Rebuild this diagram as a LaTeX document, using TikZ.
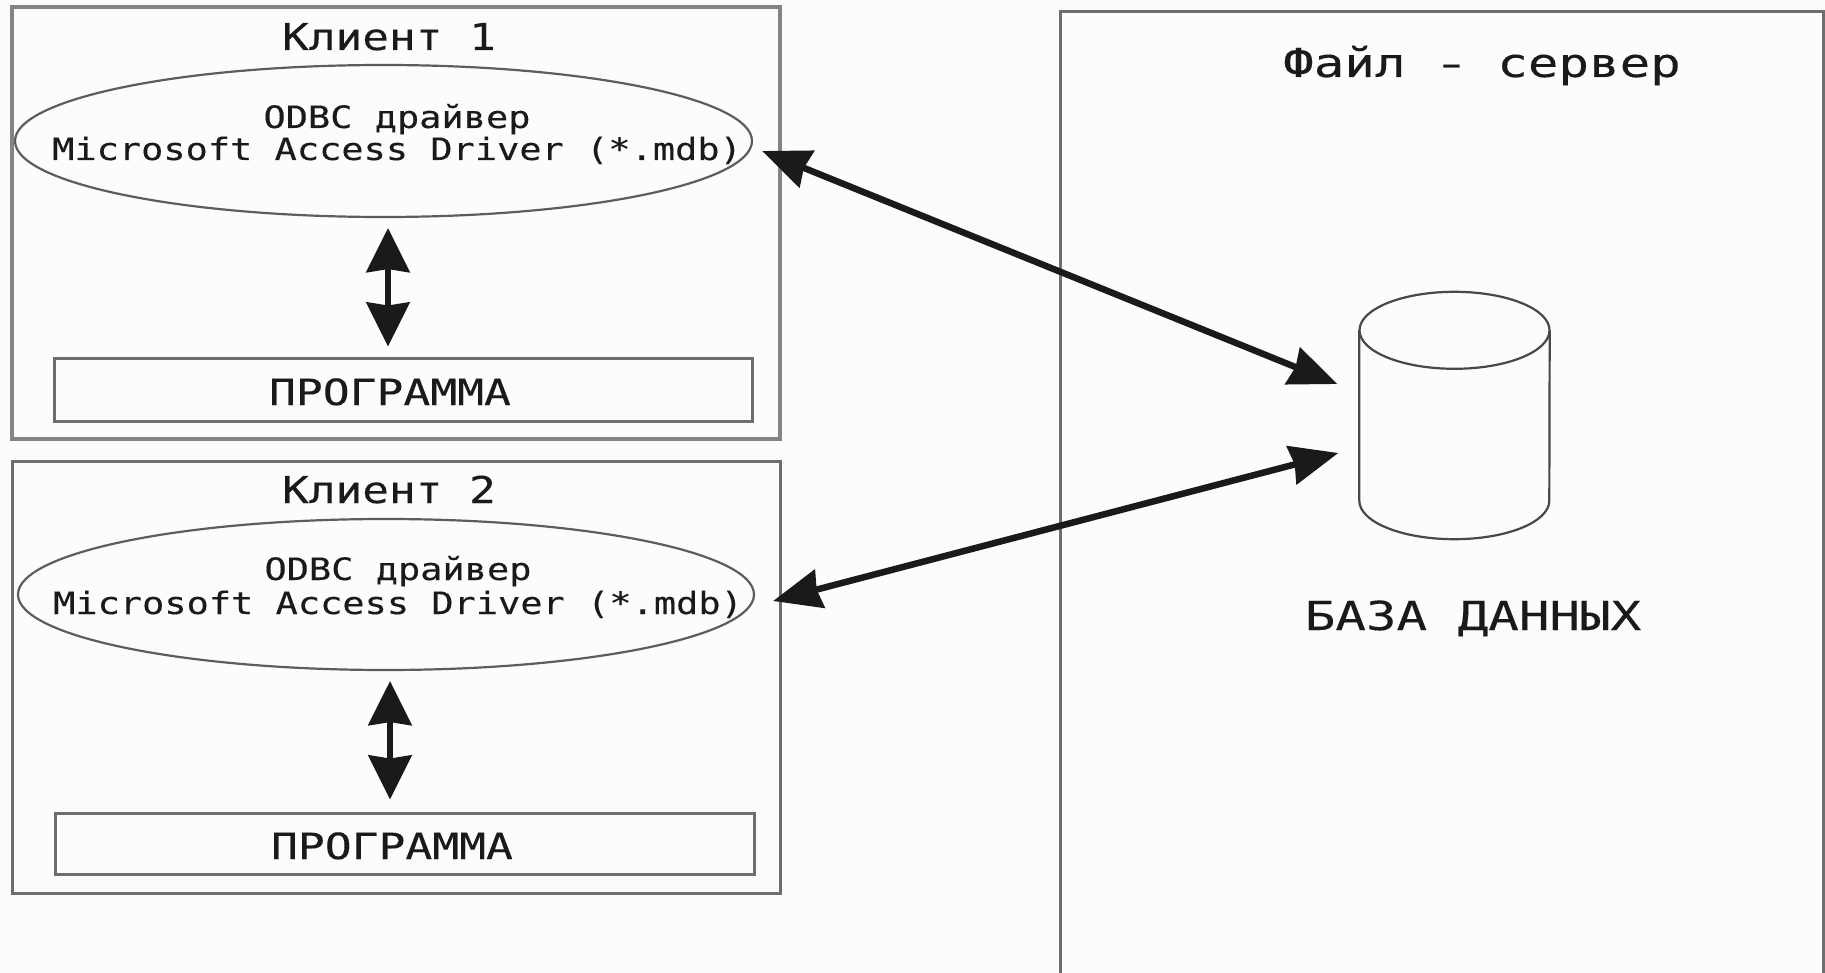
\documentclass[tikz,border=0pt]{standalone}
\usepackage{fontspec}
\usetikzlibrary{arrows.meta,shapes.geometric}
\setmainfont{DejaVu Sans}
\newfontfamily\monoA[FakeStretch=1.2,FakeBold=0.25]{DejaVu Sans Mono}
\newfontfamily\monoB[FakeStretch=1.24,FakeBold=0.25]{DejaVu Sans Mono}
\newfontfamily\monoC[FakeStretch=1.27,FakeBold=0.15]{DejaVu Sans Mono}
\newfontfamily\dashfont[FakeBold=0.4]{DejaVu Sans}
\definecolor{paper}{HTML}{FCFCFC}
\definecolor{rule}{HTML}{6E6E6E}
\definecolor{ruleb}{HTML}{848484}
\definecolor{ink}{HTML}{1A1A1A}
\tikzset{
  frame/.style={draw=rule,line width=3pt},
  framelight/.style={draw=ruleb,line width=3.5pt},
  oval/.style={draw=rule!85!black,line width=2.2pt,ellipse,inner sep=0pt},
  progbox/.style={draw=rule,line width=3pt,rectangle,inner sep=0pt},
  txt/.style={text=ink,inner sep=0pt,anchor=base},
  title/.style={txt,font=\monoA\fontsize{37}{37}\selectfont},
  small/.style={txt,font=\monoA\fontsize{30.8}{31}\selectfont},
  prog/.style={txt,font=\monoB\fontsize{36}{36}\selectfont},
  large/.style={txt,font=\monoC\fontsize{40}{40}\selectfont},
  dbline/.style={draw=ink!80,line width=2.2pt},
  vlink/.style={draw=ink,line width=6.5pt,{Stealth[length=44pt,width=43pt,inset=3pt]}-{Stealth[length=44pt,width=43pt,inset=3pt]}},
  dlink/.style={draw=ink,line width=6.5pt,{Stealth[length=48pt,width=39pt,inset=3pt]}-{Stealth[length=48pt,width=39pt,inset=3pt]}},
}
\begin{document}
\begin{tikzpicture}[x=1pt,y=-1pt]
\useasboundingbox (0,0) rectangle (1825,973);
\fill[paper] (0,0) rectangle (1825,973);
% client 1
\node[framelight,rectangle,inner sep=0pt,minimum width=768pt,minimum height=432pt] (c1) at (396,223) {};
\node[title] (c1t) at (389,50) {Клиент 1};
\node[oval,minimum width=737pt,minimum height=152pt] (e1) at (383.5,141) {};
\node[small] (e1a) at (397,128) {ODBC драйвер};
\node[small] (e1b) at (397,160) {Microsoft Access Driver (*.mdb)};
\node[progbox,minimum width=698pt,minimum height=62pt] (p1) at (403,390) {};
\node[prog] (p1t) at (390,405) {ПРОГРАММА};
% client 2
\node[frame,rectangle,inner sep=0pt,minimum width=768pt,minimum height=432pt] (c2) at (396,677) {};
\node[title] (c2t) at (389,503) {Клиент 2};
\node[oval,minimum width=736pt,minimum height=151pt] (e2) at (386,594.5) {};
\node[small] (e2a) at (398,580) {ODBC драйвер};
\node[small] (e2b) at (398,614) {Microsoft Access Driver (*.mdb)};
\node[progbox,minimum width=699pt,minimum height=61pt] (p2) at (404.5,843.5) {};
\node[prog] (p2t) at (392,859) {ПРОГРАММА};
% server
\draw[frame] (1060,973) -- (1060,12) -- (1823,12) -- (1823,973);
\node[large] (st) at (1482,77) {Файл\hspace{30.6pt}\makebox[30.6pt]{\dashfont\fontsize{40}{40}\selectfont –}\hspace{30.6pt}сервер};
\node[rectangle,inner sep=0pt,minimum width=190pt,minimum height=247pt] (db) at (1454.5,415.5) {};
\draw[dbline] ([shift={(0,38.5)}]db.north) ellipse [x radius=95,y radius=38.5];
\draw[dbline] ([shift={(0,38.5)}]db.north west) -- ([shift={(0,-38.5)}]db.south west)
  arc [start angle=180,end angle=0,x radius=95,y radius=38.5] -- ([shift={(0,38.5)}]db.north east);
\node[large] (dbt) at (1473,630) {БАЗА ДАННЫХ};
% connectors
\draw[vlink] ([shift={(4.5,10)}]e1.south) -- ([shift={(-15,-11)}]p1.north);
\draw[vlink] ([shift={(4,10)}]e2.south) -- ([shift={(-14.5,-12)}]p2.north);
\draw[dlink] ([shift={(9,10)}]e1.east) -- ([shift={(-22,-31.5)}]db.west);
\draw[dlink] ([shift={(18,6.5)}]e2.east) -- ([shift={(-21,37.5)}]db.west);
\end{tikzpicture}
\end{document}
